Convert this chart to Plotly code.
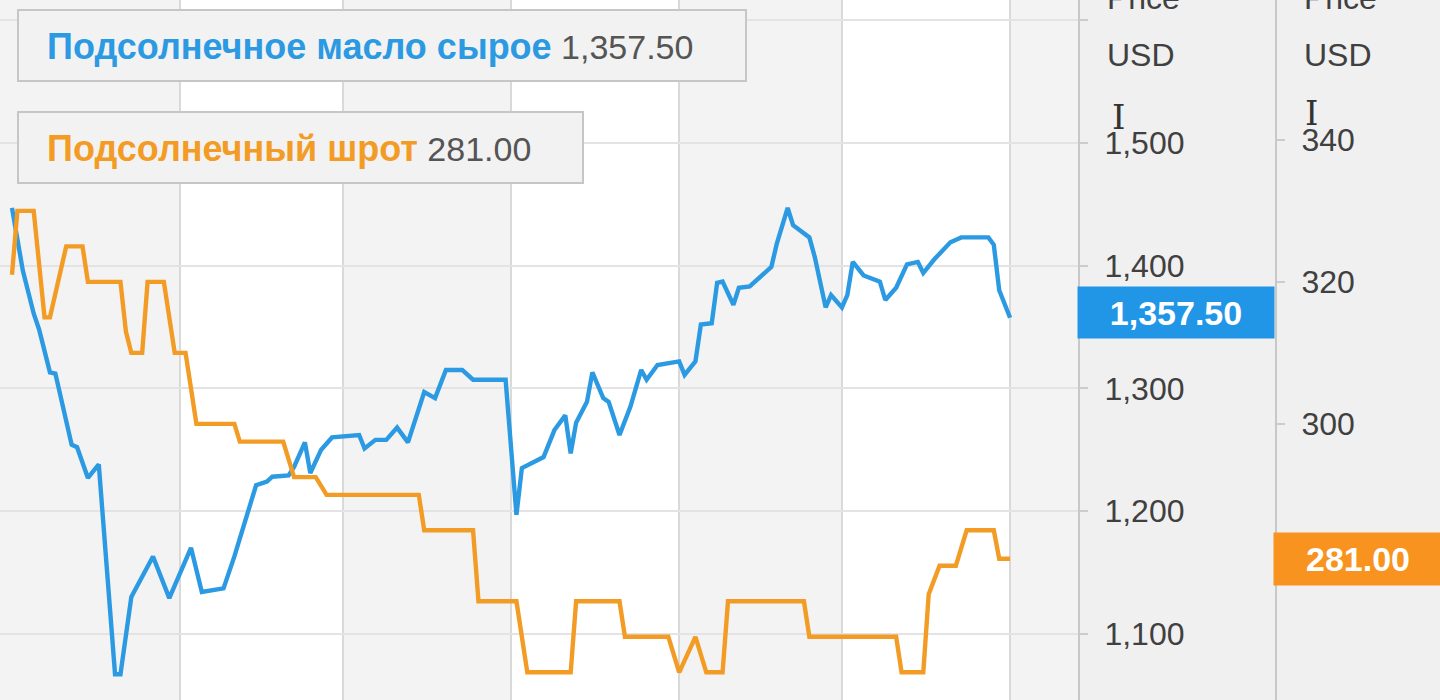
import plotly.graph_objects as go

# ---------------- data ----------------
oil_name = "Подсолнечное масло сырое"
meal_name = "Подсолнечный шрот"

oil_dates = ["2019-05-01","2019-05-03","2019-05-05","2019-05-06","2019-05-08","2019-05-09","2019-05-12","2019-05-13",
             "2019-05-15","2019-05-17","2019-05-20","2019-05-21","2019-05-23","2019-05-27","2019-05-30",
             "2019-06-03","2019-06-05","2019-06-09","2019-06-11","2019-06-15","2019-06-17","2019-06-18","2019-06-21",
             "2019-06-22","2019-06-24","2019-06-25","2019-06-27","2019-06-29",
             "2019-07-04","2019-07-05","2019-07-07","2019-07-09","2019-07-11","2019-07-13","2019-07-16","2019-07-18",
             "2019-07-20","2019-07-23","2019-07-25","2019-07-31",
             "2019-08-02","2019-08-03","2019-08-07","2019-08-09","2019-08-11","2019-08-12","2019-08-13","2019-08-15",
             "2019-08-16","2019-08-18","2019-08-19","2019-08-21","2019-08-23","2019-08-25","2019-08-26","2019-08-28",
             "2019-09-01","2019-09-02","2019-09-04","2019-09-05","2019-09-07","2019-09-08","2019-09-09","2019-09-11",
             "2019-09-12","2019-09-14","2019-09-18","2019-09-19","2019-09-21","2019-09-22","2019-09-25","2019-09-26",
             "2019-09-28","2019-09-29",
             "2019-10-01","2019-10-02","2019-10-03","2019-10-05","2019-10-08","2019-10-09","2019-10-11","2019-10-13",
             "2019-10-15","2019-10-16","2019-10-18","2019-10-21","2019-10-23","2019-10-28","2019-10-29","2019-10-30",
             "2019-11-01"]
oil_prices = [1447,1396,1361,1348,1313,1312,1254,1252,1227,1238,1067,1067,1130,1163,1129,
              1170,1134,1137,1163,1221,1224,1228,1229,1236,1256,1231,1250,1260,
              1262,1251,1258,1258,1268,1256,1297,1292,1315,1315,1307,1307,
              1197,1235,1244,1266,1278,1247,1272,1289,1313,1292,1289,1262,1285,1315,1307,1319,
              1322,1311,1322,1352,1353,1386,1387,1368,1382,1383,1399,1418,1447,1433,1423,1407,1366,1376,
              1366,1376,1403,1392,1387,1372,1382,1401,1403,1394,1405,1419,1423,1423,1417,1380,
              1357.5]

meal_dates = ["2019-05-01","2019-05-02","2019-05-05","2019-05-07","2019-05-08","2019-05-11","2019-05-14","2019-05-15",
              "2019-05-21","2019-05-22","2019-05-23","2019-05-25","2019-05-26","2019-05-29","2019-05-31",
              "2019-06-02","2019-06-04","2019-06-11","2019-06-12","2019-06-20","2019-06-22","2019-06-26","2019-06-28",
              "2019-07-15","2019-07-16","2019-07-25","2019-07-26",
              "2019-08-02","2019-08-04","2019-08-12","2019-08-13","2019-08-21","2019-08-22","2019-08-30",
              "2019-09-01","2019-09-04","2019-09-06","2019-09-09","2019-09-10","2019-09-24","2019-09-25",
              "2019-10-11","2019-10-12","2019-10-16","2019-10-17","2019-10-19","2019-10-22","2019-10-24","2019-10-29",
              "2019-10-30","2019-11-01"]
meal_prices = [321,330,330,315,315,325,325,320,320,313,310,310,320,320,310,
               310,300,300,297.5,297.5,292.5,292.5,290,
               290,285,285,275,
               275,265,265,275,275,270,270,
               265,270,265,265,275,275,270,
               270,265,265,276,280,280,285,285,281,281]

month_starts = ["2019-06-01","2019-07-01","2019-08-01","2019-09-01","2019-10-01","2019-11-01"]
oil_ticks = [1100, 1200, 1300, 1400, 1500, 1600]
oil_ticktext = ["1,100", "1,200", "1,300", "1,400", "1,500", ""]
meal_ticks = [300, 320, 340]
meal_ticktext = ["300", "320", "340"]
axis_unit = ["Price", "USD"]

# ---------------- styling ----------------
W, H = 1440, 700
BLUE = "#2b9ae2"
ORANGE = "#f39c25"
BLUE_TAG = "#2196e6"
ORANGE_TAG = "#f7931e"
FONT = "Liberation Sans"
TICK_COLOR = "#404040"

plot_right = 1079 / W
axis2_pos = 1276 / W

fig = go.Figure()
fig.add_trace(go.Scatter(x=oil_dates, y=oil_prices, mode="lines", name=oil_name,
                         line=dict(color=BLUE, width=4.4), yaxis="y"))
fig.add_trace(go.Scatter(x=meal_dates, y=meal_prices, mode="lines", name=meal_name,
                         line=dict(color=ORANGE, width=4.4), yaxis="y2"))

shapes = []
# alternating month bands
x_start = "2019-04-28 19:00"
x_end = "2019-11-13 17:00"
bounds = [x_start] + month_starts + [x_end]
for i in range(len(bounds) - 1):
    if i % 2 == 0:
        shapes.append(dict(type="rect", xref="x", yref="paper", x0=bounds[i], x1=bounds[i + 1],
                           y0=0, y1=1, fillcolor="#f3f3f3", line=dict(width=0), layer="below"))

# legend boxes
def px_rect(x0, y0, x1, y1):
    return dict(type="rect", xref="paper", yref="paper", x0=x0 / W, x1=x1 / W,
                y0=1 - y1 / H, y1=1 - y0 / H, fillcolor="#f2f2f2",
                line=dict(color="#c6c6c6", width=2), layer="above")

shapes.append(px_rect(18, 10, 746, 81))
shapes.append(px_rect(18, 112, 583, 183))

annotations = []
annotations.append(dict(xref="paper", yref="paper", x=45 / W, y=1 - 46 / H, xanchor="left", yanchor="middle",
                        showarrow=False,
                        text=f"<b><span style='color:{BLUE}'>{oil_name}</span></b>"
                             f"<span style='color:#555555;font-size:34px'> {oil_prices[-1]:,.2f}</span>",
                        font=dict(family=FONT, size=36)))
annotations.append(dict(xref="paper", yref="paper", x=45 / W, y=1 - 148 / H, xanchor="left", yanchor="middle",
                        showarrow=False,
                        text=f"<b><span style='color:{ORANGE}'>{meal_name}</span></b>"
                             f"<span style='color:#555555;font-size:34px'> {meal_prices[-1]:,.2f}</span>",
                        font=dict(family=FONT, size=36)))

# axis unit headers
for xpx in (1105, 1302):
    annotations.append(dict(xref="paper", yref="paper", x=xpx / W, y=1 + 2 / H, xanchor="left", yanchor="middle",
                            showarrow=False, text=axis_unit[0], font=dict(family=FONT, size=32, color=TICK_COLOR)))
    annotations.append(dict(xref="paper", yref="paper", x=xpx / W, y=1 - 55 / H, xanchor="left", yanchor="middle",
                            showarrow=False, text=axis_unit[1], font=dict(family=FONT, size=32, color=TICK_COLOR)))

# cursor artifacts (I-beam)
for xpx, ypx in ((1118, 117), (1311, 113)):
    annotations.append(dict(xref="paper", yref="paper", x=xpx / W, y=1 - ypx / H, xanchor="center", yanchor="middle",
                            showarrow=False, text="I", font=dict(family="DejaVu Serif", size=34, color="#333333")))

# last-price tags
annotations.append(dict(xref="paper", yref="y", x=1077 / W, y=oil_prices[-1], yshift=5, xanchor="left",
                        yanchor="middle", showarrow=False, text=f"<b>{oil_prices[-1]:,.2f}</b>",
                        font=dict(family=FONT, size=34, color="white"), bgcolor=BLUE_TAG,
                        width=188, height=43, borderpad=4, align="center"))
annotations.append(dict(xref="paper", yref="y2", x=1273 / W, y=meal_prices[-1], xanchor="left",
                        yanchor="middle", showarrow=False, text=f"<b>{meal_prices[-1]:,.2f}</b>",
                        font=dict(family=FONT, size=34, color="white"), bgcolor=ORANGE_TAG,
                        width=160, height=44, borderpad=4, align="center"))

fig.update_layout(
    width=W, height=H,
    margin=dict(l=0, r=0, t=0, b=0),
    paper_bgcolor="#f0f0f0",
    plot_bgcolor="#ffffff",
    showlegend=False,
    shapes=shapes,
    annotations=annotations,
    xaxis=dict(domain=[0, plot_right], type="date", range=[x_start, x_end],
               tickvals=month_starts, showticklabels=False, ticks="",
               showgrid=True, gridcolor="#d9d9d9", gridwidth=2, zeroline=False, showline=False),
    yaxis=dict(range=[1046, 1616.5], side="right", anchor="free", position=plot_right,
               tickvals=oil_ticks, ticktext=oil_ticktext,
               showgrid=True, gridcolor="#e3e3e3", gridwidth=2, zeroline=False,
               showline=True, linecolor="#c8c8c8", linewidth=2,
               ticks="outside", ticklen=8, tickwidth=1.5, tickcolor="#cccccc",
               ticklabelstandoff=10,
               tickfont=dict(family=FONT, size=32, color=TICK_COLOR)),
    yaxis2=dict(range=[261.1, 359.7], side="right", anchor="free", position=axis2_pos, overlaying="y",
                tickvals=meal_ticks, ticktext=meal_ticktext,
                showgrid=False, zeroline=False,
                showline=True, linecolor="#c8c8c8", linewidth=2,
                ticks="outside", ticklen=8, tickwidth=1.5, tickcolor="#cccccc",
                ticklabelstandoff=10,
                tickfont=dict(family=FONT, size=32, color=TICK_COLOR)),
)

fig.write_html("out.html", config={"displayModeBar": False},
               post_script="document.body.style.margin='0';")
